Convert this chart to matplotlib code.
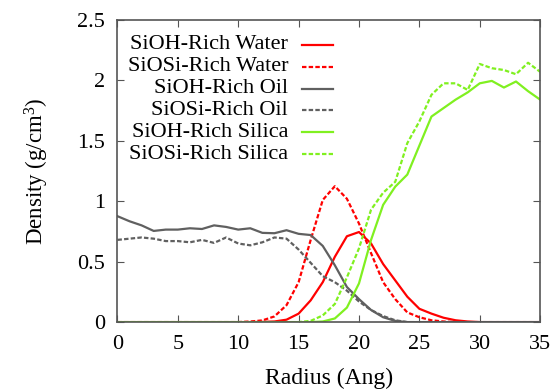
import matplotlib
matplotlib.use("Agg")
import matplotlib.pyplot as plt
from matplotlib.ticker import FormatStrFormatter

plt.rcParams['font.family'] = ['Liberation Serif', 'DejaVu Serif']
plt.rcParams['mathtext.fontset'] = 'custom'
plt.rcParams['mathtext.rm'] = 'Liberation Serif'
plt.rcParams['mathtext.default'] = 'regular'

# Données (pas de 1 Ang)
radius = list(range(0, 36))

oil_sioh = [0.876, 0.834, 0.80, 0.754, 0.765, 0.765, 0.776, 0.77, 0.80, 0.787,
            0.765, 0.776, 0.738, 0.735, 0.76, 0.73, 0.72, 0.63, 0.47, 0.29,
            0.19, 0.10, 0.04, 0.01, 0.0, 0.0, 0.0, 0.0, 0.0, 0.0,
            0.0, 0.0, 0.0, 0.0, 0.0, 0.0]
oil_siosi = [0.68, 0.69, 0.70, 0.69, 0.67, 0.67, 0.66, 0.68, 0.655, 0.70,
             0.65, 0.635, 0.66, 0.70, 0.69, 0.60, 0.49, 0.38, 0.33, 0.26,
             0.17, 0.10, 0.05, 0.015, 0.0, 0.0, 0.0, 0.0, 0.0, 0.0,
             0.0, 0.0, 0.0, 0.0, 0.0, 0.0]
water_sioh = [0.0] * 12 + [0.002, 0.005, 0.02, 0.07, 0.18, 0.33, 0.54, 0.71,
                           0.745, 0.65, 0.48, 0.345, 0.21, 0.11, 0.07, 0.036,
                           0.015, 0.005, 0.0, 0.0, 0.0, 0.0, 0.0, 0.0]
water_siosi = [0.0] * 11 + [0.005, 0.014, 0.047, 0.14, 0.33, 0.68, 1.01, 1.124,
                            1.02, 0.815, 0.57, 0.33, 0.19, 0.08, 0.04, 0.015,
                            0.005, 0.0, 0.0, 0.0, 0.0, 0.0, 0.0, 0.0, 0.0]
silica_sioh = [0.0] * 17 + [0.005, 0.03, 0.12, 0.32, 0.68, 0.97, 1.12, 1.22,
                            1.46, 1.70, 1.77, 1.84, 1.90, 1.975, 1.995, 1.94,
                            1.99, 1.91, 1.84]
silica_siosi = [0.0] * 16 + [0.01, 0.055, 0.15, 0.37, 0.61, 0.93, 1.07, 1.16,
                             1.48, 1.66, 1.88, 1.975, 1.975, 1.92, 2.135, 2.10,
                             2.085, 2.05, 2.145, 2.07]

labels = ["SiOH-Rich Water", "SiOSi-Rich Water", "SiOH-Rich Oil",
          "SiOSi-Rich Oil", "SiOH-Rich Silica", "SiOSi-Rich Silica"]
series = [water_sioh, water_siosi, oil_sioh, oil_siosi, silica_sioh, silica_siosi]
couleurs = ['#ff0000', '#ff0000', '#606060', '#606060', '#80f020', '#80f020']
styles = ['-', (0, (2, 1)), '-', (0, (2, 1)), '-', (0, (2, 1))]

fig = plt.figure(figsize=(5.54, 3.89), dpi=100)
ax = fig.add_axes([0.212, 0.172, 0.763, 0.777])

for y, c, ls in zip(series, couleurs, styles):
    ax.plot(radius, y, color=c, linestyle=ls, linewidth=1.6)

ax.set_xlim(0, 35)
ax.set_ylim(0, 2.5)
ax.set_xticks(range(0, 36, 5))
ax.set_yticks([0, 0.5, 1, 1.5, 2, 2.5])
ax.yaxis.set_major_formatter(FormatStrFormatter('%g'))
ax.tick_params(direction='in', top=True, right=True, length=5, width=0.8,
               color='#555555', labelsize=16, pad=9)
for s in ax.spines.values():
    s.set_color('#555555')
    s.set_linewidth(1.2)

ax.set_xlabel("Radius (Ang)", fontsize=17, labelpad=10)
ax.set_ylabel("Density (g/cm$^3$)", fontsize=16.5, labelpad=19)

# Légende façon gnuplot : texte aligné à droite, échantillon à droite
y0, dy = 0.917, 0.0722
for i, (lab, c, ls) in enumerate(zip(labels, couleurs, styles)):
    yy = y0 - i * dy
    ax.text(0.404, yy, lab, transform=ax.transAxes, ha='right', va='center',
            fontsize=16)
    ax.plot([0.437, 0.510], [yy, yy], transform=ax.transAxes, color=c,
            linestyle=ls, linewidth=1.6)

fig.savefig("out.png", dpi=100)
